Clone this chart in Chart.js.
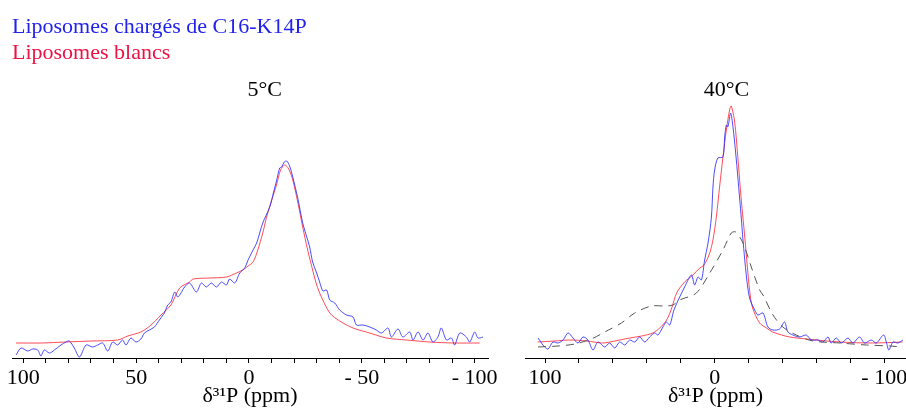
<!DOCTYPE html>
<html>
<head>
<meta charset="utf-8">
<script src="https://cdn.jsdelivr.net/npm/chart.js@4.4.0/dist/chart.umd.min.js"></script>
<style>
  body { margin: 0; background: #fff; }
  canvas { position: absolute; top: 0; }
  #c5 { left: 0; }
  #c40 { left: 500px; }
</style>
</head>
<body>
<canvas id="c5" width="500" height="410"></canvas>
<canvas id="c40" width="406" height="410"></canvas>
<script>
// 31P NMR spectra, chemical shift in ppm, intensity in arbitrary units
const ppm5Blue = [103.2, 101.0, 98.1, 95.8, 93.6, 92.2, 90.7, 88.4, 86.2, 83.3, 81.1, 79.6, 77.4, 75.1, 72.2, 69.3, 67.0, 64.8, 62.6, 60.4, 58.2, 56.0, 54.5, 52.3, 50.1, 47.9, 46.3, 44.1, 41.9, 39.7, 37.5, 36.0, 34.6, 32.9, 31.5, 28.5, 26.3, 23.3, 21.1, 18.9, 16.7, 14.4, 12.2, 10.0, 8.6, 6.3, 4.1, 1.9, 0.4, -1.8, -3.4, -6.1, -9.2, -10.9, -12.3, -13.6, -14.5, -15.6, -16.7, -18.0, -19.4, -21.6, -23.8, -25.6, -26.9, -28.2, -30.0, -31.3, -32.8, -34.4, -35.8, -38.0, -40.2, -43.2, -46.1, -47.6, -50.5, -53.5, -56.4, -58.7, -61.6, -63.1, -66.0, -68.2, -71.2, -72.7, -74.9, -77.1, -79.3, -81.5, -83.7, -85.2, -87.5, -89.7, -91.1, -93.4, -96.3, -97.8, -100.0, -101.5, -103.7];
const int5Blue = [3, 10, 7, 9, 8, 2, 8, 5, 8, 13, 16, 17, 10, 1, 13, 11, 13, 15, 7, 16, 13, 18, 13, 20, 16, 19, 25, 28, 31, 38, 45, 53, 56, 66, 61, 71, 75, 66, 75, 71, 75, 71, 76, 73, 79, 75, 85, 90, 98, 108, 115, 135, 151, 166, 178, 190, 191, 196, 197, 192, 181, 160, 135, 121, 111, 96, 85, 76, 67, 68, 58, 55, 48, 43, 41, 33, 33, 31, 28, 25, 30, 21, 29, 21, 26, 18, 26, 18, 25, 16, 21, 30, 18, 20, 13, 25, 21, 16, 26, 20, 21];

const ppm5Red = [103.2, 92.2, 81.1, 70.0, 58.2, 53.7, 47.9, 43.4, 39.0, 34.6, 30.7, 26.3, 24.8, 17.4, 10.0, 5.6, 2.7, 1.0, -1.8, -3.9, -6.1, -7.8, -10.1, -12.3, -14.0, -15.8, -17.6, -19.4, -21.6, -23.8, -26.0, -28.2, -29.6, -31.3, -35.8, -40.2, -46.1, -53.5, -60.9, -69.7, -80.1, -90.4, -102.2];
const int5Red = [15, 15, 16, 17, 18, 22, 26, 33, 43, 53, 70, 76, 79, 80, 81, 85, 88, 91, 96, 108, 125, 141, 158, 174, 188, 193, 189, 178, 156, 131, 108, 88, 76, 65, 45, 37, 30, 25, 20, 18, 16, 15, 15];

const ppm40Blue = [104.1, 102.1, 100.2, 98.2, 95.3, 92.3, 89.4, 86.4, 83.5, 80.6, 77.6, 74.7, 71.7, 68.8, 64.8, 61.9, 58.9, 56.0, 53.0, 50.1, 47.1, 44.2, 41.2, 38.3, 35.4, 33.4, 30.5, 28.5, 26.5, 24.0, 20.6, 17.7, 13.7, 11.8, 9.8, 7.8, 5.9, 3.9, 1.9, 1.0, 0, -1.9, -4.9, -5.9, -6.9, -7.8, -9.4, -10.8, -12.4, -13.7, -15.7, -16.7, -18.7, -20.6, -23.6, -25.5, -28.5, -31.4, -34.4, -38.3, -41.2, -43.2, -46.1, -50.1, -54.0, -57.0, -60.9, -63.8, -66.8, -68.7, -71.7, -74.7, -78.6, -81.5, -85.4, -88.4, -92.3, -95.3, -99.6, -101.2, -102.7, -105.1, -108.0, -111.0];
const int40Blue = [20, 15, 11, 9, 16, 15, 18, 25, 20, 15, 21, 18, 8, 16, 11, 15, 10, 16, 13, 18, 16, 21, 16, 21, 25, 23, 31, 36, 33, 48, 61, 71, 83, 73, 81, 78, 98, 115, 141, 171, 188, 200, 201, 221, 233, 231, 245, 231, 205, 180, 140, 118, 82, 60, 48, 43, 45, 31, 28, 29, 36, 26, 23, 21, 23, 18, 18, 16, 21, 15, 20, 15, 20, 15, 21, 15, 18, 15, 23, 16, 8, 16, 15, 18];

const ppm40Red = [104.3, 94.3, 85.4, 75.4, 66.0, 58.9, 50.1, 43.0, 36.5, 32.4, 28.3, 25.3, 22.4, 17.7, 12.8, 8.8, 6.9, 4.9, 2.9, 1.0, -1.0, -2.9, -4.9, -6.9, -8.8, -9.8, -11.8, -13.7, -15.7, -17.7, -19.6, -21.0, -22.4, -26.5, -30.6, -34.2, -39.5, -44.2, -54.2, -73.7, -93.1, -110.8];
const int40Red = [16, 17, 18, 17, 15, 17, 20, 22, 25, 30, 38, 50, 65, 76, 83, 90, 92, 97, 105, 118, 141, 171, 201, 228, 248, 252, 236, 200, 158, 122, 85, 62, 50, 35, 30, 26, 23, 21, 19, 16, 15, 16];

const ppm40Ref = [104.1, 92.3, 82.5, 72.7, 64.8, 55.0, 47.1, 37.3, 29.5, 24.6, 20.6, 10.8, 2.9, -4.9, -9.8, -12.4, -16.7, -21.6, -26.5, -28.5, -34.4, -40.2, -48.1, -57.9, -73.7, -89.4, -103.1, -111.0];
const int40Ref = [11, 12, 14, 19, 26, 35, 45, 52, 52, 53, 58, 65, 85, 108, 125, 126, 115, 91, 68, 63, 43, 31, 23, 17, 15, 13, 12, 11];

const labelTicks5 = [100, 50, 0, -50, -100];
const labelTicks40 = [100, 0, -100];

const toPoints = (xs, ys) => xs.map((x, i) => ({ x: x, y: ys[i] }));
const fmt = v => v < 0 ? '- ' + Math.abs(v) : String(v);

Chart.defaults.font.family = '"Liberation Serif", "Times New Roman", serif';
Chart.defaults.color = '#000';

// temperature title + legend text drawn on the canvas
const panelText = {
  id: 'panelText',
  afterDraw(chart, args, opts) {
    const ctx = chart.ctx;
    ctx.save();
    ctx.font = '22px "Liberation Serif"';
    ctx.textBaseline = 'alphabetic';
    ctx.fillStyle = '#000';
    ctx.textAlign = 'center';
    ctx.fillText(opts.title, chart.scales.x.getPixelForValue(opts.titleAt), 96);
    if (opts.legend) {
      ctx.textAlign = 'left';
      let row = 0;
      chart.data.datasets.forEach(ds => {
        if (!ds.legendColor) return;
        ctx.fillStyle = ds.legendColor;
        ctx.fillText(ds.label, 12, 33 + row * 26);
        row++;
      });
    }
    ctx.restore();
  }
};

function xAxis(min, max, step, labels) {
  return {
    type: 'linear',
    reverse: true,
    min: min,
    max: max,
    ticks: {
      stepSize: step,
      includeBounds: false,
      autoSkip: false,
      maxRotation: 0,
      padding: 2,
      font: { size: 22 },
      callback: v => labels.includes(v) ? fmt(v) : ''
    },
    grid: { drawOnChartArea: false, drawTicks: true, tickLength: 5, color: '#000', tickColor: '#000' },
    border: { display: true, color: '#000', width: 1 },
    title: { display: true, text: 'δ³¹P (ppm)', font: { size: 22 }, padding: { top: 0, bottom: 1 } },
    afterFit: s => { s.height = 52; s.paddingLeft = 0; s.paddingRight = 0; }
  };
}

function lineSet(label, xs, ys, color, legendColor, dash) {
  return {
    label: label,
    data: toPoints(xs, ys),
    borderColor: color,
    borderWidth: 1,
    borderDash: dash || [],
    pointRadius: 0,
    tension: 0.3,
    fill: false,
    legendColor: legendColor
  };
}

function makeChart(id, datasets, xScale, pad, text) {
  return new Chart(document.getElementById(id), {
    type: 'line',
    data: { datasets: datasets },
    options: {
      responsive: false,
      animation: false,
      layout: { padding: pad },
      scales: { x: xScale, y: { display: false, min: 0, max: 258 } },
      plugins: { legend: { display: false }, tooltip: { enabled: false }, panelText: text }
    },
    plugins: [panelText]
  });
}

makeChart('c5', [
  lineSet('Liposomes chargés de C16-K14P', ppm5Blue, int5Blue, 'rgba(45,45,255,0.85)', '#2222ee'),
  lineSet('Liposomes blancs', ppm5Red, int5Red, 'rgba(255,45,60,0.85)', '#ee1144')
], xAxis(-105.9, 105, 10, labelTicks5), { top: 100, left: 12, right: 12, bottom: 0 },
  { title: '5°C', titleAt: -7, legend: true });

makeChart('c40', [
  lineSet('', ppm40Ref, int40Ref, '#555', null, [8, 6]),
  lineSet('Liposomes chargés de C16-K14P', ppm40Blue, int40Blue, 'rgba(45,45,255,0.85)', '#2222ee'),
  lineSet('Liposomes blancs', ppm40Red, int40Red, 'rgba(255,45,60,0.85)', '#ee1144')
], xAxis(-112.8, 111.8, 20, labelTicks40), { top: 100, left: 25, right: 0, bottom: 0 },
  { title: '40°C', titleAt: -7, legend: false });
</script>
</body>
</html>
